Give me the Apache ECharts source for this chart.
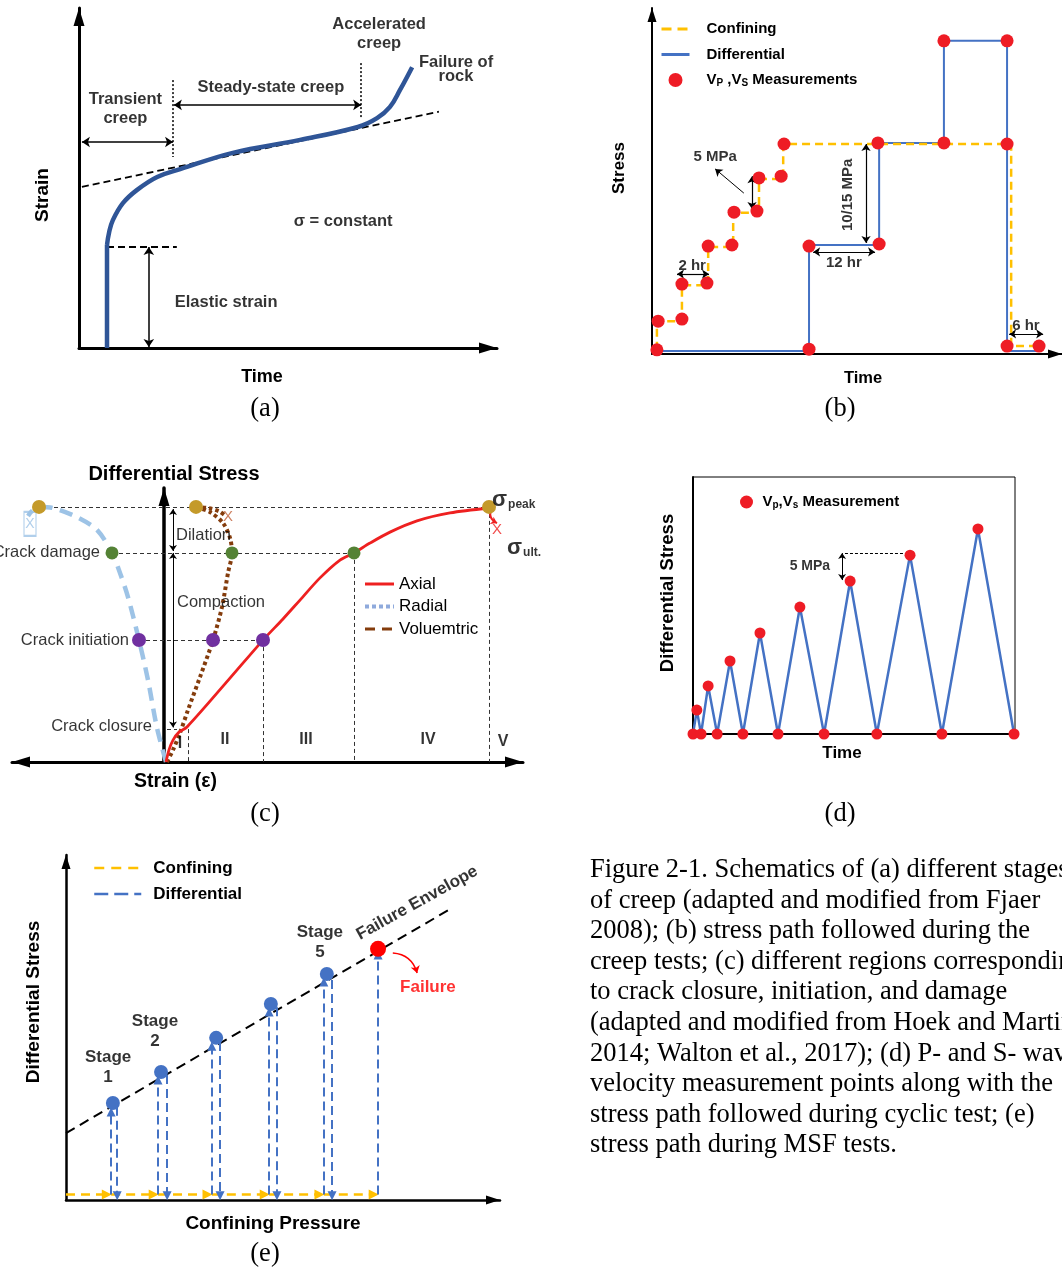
<!DOCTYPE html>
<html><head><meta charset="utf-8">
<script src="https://cdn.jsdelivr.net/npm/echarts@6/dist/echarts.min.js"></script>
<style>html,body{margin:0;padding:0;background:#fff;} #main{width:1062px;height:1268px;}</style>
</head><body><div id="main"></div>
<script>
// ================= DATA =================
// (a) creep strain vs time (normalised units 0-100)
const aElastic = [[6.7, 0], [6.7, 30.3]];
const aCreep = [[6.7, 30.3], [7.2, 34.0], [8.1, 37.6], [10.5, 42.6], [13.9, 46.5], [18.7, 50.3], [24.2, 52.6], [36.8, 57.4], [52.9, 61.2], [66.7, 65.0], [71.3, 67.6], [74.4, 70.9], [76.8, 75.9], [79.7, 82.6]];
const aTangent = [[0.7, 47.4], [86.1, 69.5]];
const aElasticLevel = [[6.7, 29.7], [23.4, 29.7]];
const aSpans = [[[16.7, 29.7], [16.7, 0.3]], [[0.7, 60.6], [22.5, 60.6]], [[22.7, 71.5], [67.5, 71.5]]];
const aBounds = [[[22.5, 78.8], [22.5, 56.2]], [[67.5, 83.8], [67.5, 67.6]]];
const aNotes = [[71.8, 92.5, 'Accelerated\ncreep'], [90.2, 81.8, 'Failure of\nrock'], [45.9, 76.5, 'Steady-state creep'], [11.1, 70.4, 'Transient\ncreep'], [63.2, 37.1, 'σ = constant'], [35.2, 13.5, 'Elastic strain']];

// (b) creep test stress path
const bConfT = [1.2, 1.2, 7.3, 7.3, 13.7, 13.7, 19.8, 19.8, 26.1, 26.1, 32.0, 32.0, 87.6, 87.6, 94.4];
const bConfS = [1.2, 9.5, 9.5, 19.9, 19.9, 30.9, 30.9, 40.8, 40.8, 50.6, 50.6, 60.7, 60.7, 2.3, 2.3];
const bDiffT = [1.2, 38.3, 38.3, 55.4, 55.4, 71.2, 71.2, 86.6, 86.6, 95.1];
const bDiffS = [0.9, 0.9, 31.5, 31.5, 61.0, 61.0, 90.5, 90.5, 0.9, 0.9];
const bMeasT = [1.2, 1.5, 7.3, 7.3, 13.4, 13.7, 19.5, 20.0, 25.6, 26.1, 31.5, 32.2, 38.3, 38.3, 55.1, 55.4, 71.2, 71.2, 86.6, 86.6, 86.6, 94.4];
const bMeasS = [1.2, 9.5, 10.1, 20.2, 20.5, 31.2, 31.5, 41.0, 41.3, 50.9, 51.4, 60.7, 1.4, 31.2, 61.0, 31.8, 61.0, 90.5, 90.5, 60.7, 2.3, 2.3];
const bSpans = [[[24.4, 51.4], [24.4, 41.9]], [[52.2, 60.7], [52.2, 32.1]], [[39.3, 29.5], [54.4, 29.5]], [[6.1, 23.1], [13.9, 23.1]], [[87.1, 5.8], [95.4, 5.8]]];
const bPointer = [[[22.4, 46.5], [15.4, 53.5]]];
const bNotes = [[15.4, 56.9, '5 MPa'], [46.8, 26.3, '12 hr'], [9.8, 25.4, '2 hr'], [91.2, 8.1, '6 hr']];
const bNotesV = [[47.8, 46.0, '10/15 MPa']];

// (c) stress-strain regions
const cAxial = [[0.4, 0], [1.0, 4.4], [1.8, 8.0], [3.0, 10.9], [4.6, 12.8], [12.2, 28.5], [19.8, 44.5], [23.8, 52.2], [27.2, 59.1], [31.2, 67.2], [35.2, 73.7], [38.0, 76.3], [41.2, 79.9], [45.2, 83.9], [50.6, 88.0], [57.2, 90.9], [65.0, 92.7]];
const cAxialTail = [[[65.6, 92.9], [66.6, 87.2]]];
const cRadial = [[0.4, 0], [-1.4, 12.4], [-3.2, 29.9], [-5.0, 44.5], [-7.2, 60.2], [-8.8, 69.0], [-10.4, 76.3], [-13.4, 84.7], [-17.4, 89.4], [-22.2, 92.7], [-25.0, 93.1], [-26.4, 91.6], [-27.2, 89.8]];
const cVol = [[0.6, 0], [1.8, 4.4], [3.2, 10.6], [4.8, 19.0], [7.2, 31.0], [9.8, 44.5], [11.6, 56.6], [12.8, 69.0], [13.6, 76.3], [13.2, 81.8], [11.8, 87.2], [9.2, 91.2], [6.4, 93.1]];
const cVolTail = [[6.4, 93.1], [9.0, 92.6], [11.0, 91.5], [12.2, 90.0]];
const cGold = [[-25.0, 93.1], [6.4, 93.1], [65.0, 93.1]];
const cGreen = [[-10.4, 76.3], [13.6, 76.3], [38.0, 76.3]];
const cPurple = [[-5.0, 44.5], [9.8, 44.5], [19.8, 44.5]];
const cGuidesH = [[[-24.8, 93.1], [65.0, 93.1]], [[-10.4, 76.3], [38.0, 76.3]], [[-5.0, 44.5], [19.8, 44.5]], [[0.6, 12.0], [2.6, 12.0]]];
const cGuidesV = [[[4.8, 12.0], [4.8, 0]], [[19.8, 44.5], [19.8, 0]], [[38.0, 76.3], [38.0, 0]], [[65.0, 93.1], [65.0, 0]]];
const cSpans = [[[1.8, 92.3], [1.8, 77.0]], [[1.8, 76.3], [1.8, 12.6]]];
const cNotesR = [[-12.8, 76.3, 'Crack damage'], [-7.0, 44.5, 'Crack initiation'], [-2.4, 12.8, 'Crack closure']];
const cNotesL = [[2.4, 82.8, 'Dilation'], [2.6, 58.4, 'Compaction']];
const cRegions = [[3.2, 6.9, 'I'], [12.2, 8.0, 'II'], [28.4, 8.0, 'III'], [52.8, 8.0, 'IV'], [67.8, 7.3, 'V']];
const cSigma = [[65.6, 95.6, '{s|σ}{p|peak}'], [68.6, 78.1, '{s|σ}{p|ult.}']];

// (d) cyclic test
const dTime = [0, 1.2, 2.5, 4.7, 7.5, 11.5, 15.5, 20.8, 26.4, 33.2, 40.7, 48.8, 57.1, 67.4, 77.3, 88.5, 99.7];
const dStress = [0, 9.3, 0, 18.7, 0, 28.4, 0, 39.3, 0, 49.4, 0, 59.5, 0, 69.6, 0, 79.8, 0];
const dSpan = [[[46.3, 70.4], [46.3, 59.9]]];
const dLevel = [[[47.2, 70.4], [66.8, 70.4]]];
const dNotes = [[36.3, 65.4, '5 MPa']];

// (e) MSF test
const eEnvelope = [[0, 19.4], [88.9, 84.6]];
const eStageP = [10.8, 21.9, 34.6, 47.2, 60.1];
const eStageQ = [28.1, 37.1, 47.0, 56.8, 65.5];
const eFailure = [[71.9, 72.8]];
const eUpX = [10.4, 21.2, 33.6, 46.8, 59.4, 71.9];
const eUpTop = [25.5, 34.8, 44.6, 54.5, 63.2, 71.0];
const eDownX = [11.8, 23.3, 35.5, 48.6, 61.3];
const eDownTop = [27.0, 36.2, 45.8, 55.9, 63.8];
const eBase = 1.6;
const eCurl = [[[75.3, 71.6], [80.9, 65.8]]];
const eNotes = [[9.7, 38.6, 'Stage\n1'], [20.5, 49.0, 'Stage\n2'], [58.5, 74.8, 'Stage\n5']];

const caption = [
  'Figure 2-1. Schematics of (a) different stages',
  'of creep (adapted and modified from Fjaer',
  '2008); (b) stress path followed during the',
  'creep tests; (c) different regions corresponding',
  'to crack closure, initiation, and damage',
  '(adapted and modified from Hoek and Martin',
  '2014; Walton et al., 2017); (d) P- and S- wave',
  'velocity measurement points along with the',
  'stress path followed during cyclic test; (e)',
  'stress path during MSF tests.'
];

// ================= HELPERS =================
const SANS = "'Liberation Sans', Arial, sans-serif";
const SERIF = "'Liberation Serif', 'Times New Roman', serif";
const BLUE = '#4472C4', ORANGE = '#FFC000', RED = '#FF0000';
const NOSYM = {opacity: 0, color: 'rgba(0,0,0,0)', borderWidth: 0};
const zip = (a, b) => a.map((v, k) => [v, b[k]]);

function nts(size, pad) { return {fontFamily: SANS, fontWeight: 'bold', fontSize: size, color: '#000', padding: pad || 0}; }
function axLine(width, symbol, size, offset) {
  return {show: true, onZero: true, symbol: symbol || 'none', symbolSize: size || [10, 15], symbolOffset: offset || [0, 0], lineStyle: {color: '#000', width: width}};
}
function axis(i, min, max, o) {
  return Object.assign({gridIndex: i, type: 'value', min: min, max: max, axisTick: {show: false}, axisLabel: {show: false}, splitLine: {show: false}}, o);
}
function line(i, name, data, style, extra) {
  return Object.assign({type: 'line', name: name, xAxisIndex: i, yAxisIndex: i, data: data, symbol: 'none', showSymbol: false, clip: false, silent: true, animation: false, z: 2,
    lineStyle: Object.assign({color: '#000', width: 2}, style)}, extra || {});
}
function segs(i, list, style, symbol, size, extra) {
  return Object.assign({type: 'lines', coordinateSystem: 'cartesian2d', xAxisIndex: i, yAxisIndex: i, clip: false, silent: true, animation: false, z: 3,
    symbol: symbol || 'none', symbolSize: size || 8, data: list.map(c => ({coords: c})),
    lineStyle: Object.assign({color: '#000', width: 1.2, opacity: 1, type: 'solid', curveness: 0}, style)}, extra || {});
}
function dots(i, name, data, color, size, extra) {
  return Object.assign({type: 'scatter', name: name, xAxisIndex: i, yAxisIndex: i, data: data, symbol: 'circle', symbolSize: size, clip: false, silent: true, animation: false, z: 6,
    itemStyle: {color: color, opacity: 1}}, extra || {});
}
function texts(i, list, style) {
  return {type: 'scatter', xAxisIndex: i, yAxisIndex: i, symbolSize: 0, clip: false, silent: true, animation: false, z: 9,
    data: list.map(t => ({value: [t[0], t[1]], name: t[2]})),
    label: Object.assign({show: true, position: 'inside', formatter: p => p.name, color: '#000', fontFamily: SANS, fontWeight: 'bold', fontSize: 16.5, lineHeight: 19, align: 'center', verticalAlign: 'middle'}, style)};
}

// ================= OPTION =================
const option = {
  backgroundColor: '#fff',
  animation: false,
  title: [
    {text: caption.join('\n'), left: 590, top: 855, padding: 0, textStyle: {fontFamily: SERIF, fontSize: 26.5, fontWeight: 'normal', color: '#000', lineHeight: 30.55}},
    {text: '(a)', left: 265, top: 396, textAlign: 'center', padding: 0, textStyle: {fontFamily: SERIF, fontSize: 26.5, fontWeight: 'normal', color: '#000'}},
    {text: '(b)', left: 840, top: 396, textAlign: 'center', padding: 0, textStyle: {fontFamily: SERIF, fontSize: 26.5, fontWeight: 'normal', color: '#000'}},
    {text: '(c)', left: 265, top: 801, textAlign: 'center', padding: 0, textStyle: {fontFamily: SERIF, fontSize: 26.5, fontWeight: 'normal', color: '#000'}},
    {text: '(d)', left: 840, top: 801, textAlign: 'center', padding: 0, textStyle: {fontFamily: SERIF, fontSize: 26.5, fontWeight: 'normal', color: '#000'}},
    {text: '(e)', left: 265, top: 1241, textAlign: 'center', padding: 0, textStyle: {fontFamily: SERIF, fontSize: 26.5, fontWeight: 'normal', color: '#000'}}
  ],
  legend: [
    {left: 660, top: 21.5, padding: 0, orient: 'vertical', itemWidth: 28, itemHeight: 14, itemGap: 10.5, selectedMode: false,
      data: [{name: 'Confining', itemStyle: NOSYM, lineStyle: {width: 3, type: [10, 6]}}, {name: 'Differential', itemStyle: NOSYM, lineStyle: {width: 3}}, {name: 'VP,VS Measurements'}],
      formatter: n => n === 'VP,VS Measurements' ? '{n|V}{s|P}{n| ,V}{s|S}{n| Measurements}' : n,
      textStyle: {fontFamily: SANS, fontWeight: 'bold', fontSize: 15, color: '#000', padding: [0, 0, 0, 12],
        rich: {n: {fontFamily: SANS, fontWeight: 'bold', fontSize: 15, color: '#000'}, s: {fontFamily: SANS, fontWeight: 'bold', fontSize: 10, color: '#000', padding: [7, 0, 0, 0]}}}},
    {left: 363, top: 575.5, padding: 0, orient: 'vertical', itemWidth: 29, itemHeight: 14, itemGap: 5.5, selectedMode: false,
      data: [{name: 'Axial', itemStyle: NOSYM, lineStyle: {width: 3}}, {name: 'Radial', itemStyle: NOSYM, lineStyle: {type: [4, 3], width: 4, color: '#8FAADC'}}, {name: 'Voluemtric', itemStyle: NOSYM, lineStyle: {type: [10, 7], width: 3}}],
      textStyle: {fontFamily: SANS, fontSize: 17, color: '#000'}},
    {left: 740, top: 494.5, padding: 0, orient: 'vertical', itemWidth: 14, itemHeight: 13, selectedMode: false,
      data: [{name: 'Vp,Vs Measurement'}],
      formatter: () => '{n|V}{s|p}{n|,V}{s|s}{n| Measurement}',
      textStyle: {fontFamily: SANS, fontWeight: 'bold', fontSize: 15, color: '#000', padding: [0, 0, 0, 4],
        rich: {n: {fontFamily: SANS, fontWeight: 'bold', fontSize: 15, color: '#000'}, s: {fontFamily: SANS, fontWeight: 'bold', fontSize: 10, color: '#000', padding: [7, 0, 0, 0]}}}},
    {left: 93, top: 859.5, padding: 0, orient: 'vertical', itemWidth: 47, itemHeight: 14, itemGap: 9, selectedMode: false,
      data: [{name: 'Confining', itemStyle: NOSYM, lineStyle: {type: [10, 7], width: 2.5}}, {name: 'Differential', itemStyle: NOSYM, lineStyle: {type: [14, 6], width: 2.5}}],
      textStyle: {fontFamily: SANS, fontWeight: 'bold', fontSize: 17, color: '#000', padding: [0, 0, 0, 7]}}
  ],
  grid: [
    {left: 79, top: 8, width: 418, height: 340},
    {left: 652, top: 8, width: 410, height: 346},
    {left: 12, top: 488, width: 511, height: 274},
    {left: 693, top: 477, width: 322, height: 257, show: true, borderColor: '#000', borderWidth: 1, backgroundColor: 'transparent'},
    {left: 66, top: 855, width: 434, height: 345}
  ],
  xAxis: [
    axis(0, 0, 100, {axisLine: axLine(3, ['none', 'triangle'], [11, 18], [0, -9]), name: 'Time', nameLocation: 'middle', nameGap: 20, nameTextStyle: nts(18, [0, 52, 0, 0])}),
    axis(1, 0, 100, {axisLine: axLine(2, ['none', 'triangle'], [9, 14], [0, -7]), name: 'Time', nameLocation: 'middle', nameGap: 15.5, nameTextStyle: nts(16.5, [0, 0, 0, 12])}),
    axis(2, -30.4, 71.8, {axisLine: axLine(3, ['triangle', 'triangle'], [11, 18], [9, -9]), name: 'Strain (ε)', nameLocation: 'middle', nameGap: 10, nameTextStyle: nts(19.5, [0, 184, 0, 0])}),
    axis(3, 0, 100, {axisLine: axLine(2), name: 'Time', nameLocation: 'middle', nameGap: 10.5, nameTextStyle: nts(17, [0, 24, 0, 0])}),
    axis(4, 0, 100, {axisLine: axLine(2.5, ['none', 'triangle'], [9, 14], [0, -7]), name: 'Confining Pressure', nameLocation: 'middle', nameGap: 14.5, nameTextStyle: nts(19, [0, 20, 0, 0])})
  ],
  yAxis: [
    axis(0, 0, 100, {axisLine: axLine(3, ['none', 'triangle'], [11, 18], [0, -9]), name: 'Strain', nameLocation: 'middle', nameGap: 27, nameTextStyle: nts(19, [0, 34, 0, 0])}),
    axis(1, 0, 100, {axisLine: axLine(2, ['none', 'triangle'], [9, 14], [0, -7]), name: 'Stress', nameLocation: 'middle', nameGap: 24, nameTextStyle: nts(17, [0, 0, 0, 26])}),
    axis(2, 0, 100, {axisLine: axLine(3.5, ['none', 'triangle'], [11, 18], [0, -9]), name: 'Differential Stress', nameLocation: 'end', nameGap: 4, nameTextStyle: nts(20, [0, 0, 0, 20])}),
    axis(3, 0, 100, {axisLine: axLine(2), name: 'Differential Stress', nameLocation: 'middle', nameGap: 16, nameTextStyle: nts(18.5, [0, 0, 0, 25])}),
    axis(4, 0, 100, {axisLine: axLine(2.5, ['none', 'triangle'], [9, 14], [0, -7]), name: 'Differential Stress', nameLocation: 'middle', nameGap: 22.5, nameTextStyle: nts(19, [0, 0, 0, 51])})
  ],
  series: [
    // ---- (b) first so legends pick these styles ----
    line(1, 'Differential', zip(bDiffT, bDiffS), {color: BLUE, width: 2}, {z: 2}),
    line(1, 'Confining', zip(bConfT, bConfS), {color: ORANGE, width: 2.5, type: [8, 5]}, {z: 3}),
    dots(1, 'VP,VS Measurements', zip(bMeasT, bMeasS), '#EE1C25', 13),
    segs(1, bSpans, {width: 1.2}, ['arrow', 'arrow'], 7),
    segs(1, bPointer, {width: 1}, ['none', 'arrow'], 7),
    texts(1, bNotes, {fontSize: 15}),
    texts(1, bNotesV, {fontSize: 15, rotate: 90}),

    // ---- (a) ----
    line(0, null, aElastic, {color: '#2F5597', width: 4.5}),
    line(0, null, aCreep, {color: '#2F5597', width: 4.5}, {smooth: 0.4}),
    line(0, null, aTangent, {color: '#000', width: 1.8, type: [7, 4]}, {z: 1}),
    line(0, null, aElasticLevel, {color: '#000', width: 2, type: [7, 4]}, {z: 1}),
    segs(0, aSpans, {width: 1.5}, ['arrow', 'arrow'], 8),
    segs(0, aBounds, {width: 1.5, type: [2, 2]}),
    {type: 'scatter', xAxisIndex: 0, yAxisIndex: 0, symbolSize: 0, clip: false, silent: true, animation: false, z: 9,
      data: aNotes.map(t => ({value: [t[0], t[1]], name: t[2], label: t[2].indexOf('Failure') === 0 ? {lineHeight: 14} : {}})),
      label: {show: true, position: 'inside', formatter: p => p.name, color: '#000', fontFamily: SANS, fontWeight: 'bold', fontSize: 16.5, lineHeight: 19, align: 'center', verticalAlign: 'middle'}},

    // ---- (c) ----
    segs(2, cGuidesH, {width: 1, type: [4, 3], color: '#333'}, 'none', 1, {z: 1}),
    segs(2, cGuidesV, {width: 1, type: [4, 3], color: '#333'}, 'none', 1, {z: 1}),
    line(2, 'Axial', cAxial, {color: '#EE2020', width: 2.8}, {smooth: 0.3, z: 4}),
    segs(2, cAxialTail, {color: '#EE2020', width: 2, curveness: -0.5}, ['none', 'arrow'], 6),
    line(2, 'Radial', cRadial, {color: '#9DC3E6', width: 4.5, type: [13, 8]}, {smooth: 0.3, z: 3}),
    line(2, 'Voluemtric', cVol, {color: '#843C0C', width: 4, type: [3.5, 3]}, {smooth: 0.3, z: 3}),
    line(2, null, cVolTail, {color: '#843C0C', width: 4, type: [3.5, 3]}, {smooth: 0.3, z: 3}),
    segs(2, cSpans, {width: 1}, ['arrow', 'arrow'], 6),
    dots(2, null, cGold, '#C49A2A', 14),
    dots(2, null, cGreen, '#548235', 13),
    dots(2, null, cPurple, '#7030A0', 14),
    {type: 'scatter', xAxisIndex: 2, yAxisIndex: 2, data: [[-26.8, 86.9]], symbol: 'rect', symbolSize: [12, 24], clip: false, silent: true, animation: false, z: 5,
      itemStyle: {color: 'rgba(255,255,255,0)', borderColor: '#9DC3E6', borderWidth: 1.5},
      label: {show: true, position: 'inside', formatter: 'X', color: '#9DC3E6', fontFamily: SANS, fontSize: 14}},
    texts(2, [[12.8, 89.4, 'X']], {fontWeight: 'normal', fontSize: 15, color: '#C0603A'}),
    texts(2, [[66.6, 84.7, 'X']], {fontWeight: 'normal', fontSize: 15, color: '#EE2020'}),
    texts(2, cNotesR, {fontWeight: 'normal', fontSize: 16.5, align: 'right'}),
    texts(2, cNotesL, {fontWeight: 'normal', fontSize: 16.5, align: 'left'}),
    texts(2, cRegions, {fontSize: 16}),
    texts(2, cSigma, {align: 'left', rich: {s: {fontFamily: SANS, fontSize: 22, color: '#000'}, p: {fontFamily: SANS, fontSize: 12, color: '#000', padding: [10, 0, 0, 1]}}}),

    // ---- (d) ----
    line(3, null, zip(dTime, dStress), {color: BLUE, width: 2.5}),
    dots(3, 'Vp,Vs Measurement', zip(dTime, dStress), '#EE1C25', 11),
    segs(3, dSpan, {width: 1}, ['arrow', 'arrow'], 6),
    segs(3, dLevel, {width: 1, type: [3, 2]}),
    texts(3, dNotes, {fontSize: 14}),

    // ---- (e) ----
    line(4, null, eEnvelope, {color: '#000', width: 2, type: [10, 6]}, {z: 1}),
    segs(4, [0].concat(eUpX.slice(0, -1)).map((x0, k) => [[x0, eBase], [eUpX[k] - 1, eBase]]), {color: ORANGE, width: 2.5, type: [9, 6]}, ['none', 'triangle'], [8, 10], {z: 2}),
    segs(4, eUpX.map((x, k) => [[x, eBase], [x, eUpTop[k]]]), {color: BLUE, width: 2, type: [9, 5]}, ['none', 'triangle'], [7, 9]),
    segs(4, eDownX.map((x, k) => [[x, eDownTop[k]], [x, eBase - 0.4]]), {color: BLUE, width: 2, type: [9, 5]}, ['none', 'triangle'], [7, 9]),
    dots(4, null, zip(eStageP, eStageQ), BLUE, 14),
    dots(4, null, eFailure, RED, 16),
    segs(4, eCurl, {color: RED, width: 1.5, curveness: 0.35}, ['none', 'arrow'], 7),
    texts(4, eNotes, {fontSize: 17, lineHeight: 20}),
    texts(4, [[80.9, 86.1, 'Failure Envelope']], {fontSize: 17, rotate: 29}),
    texts(4, [[83.4, 61.7, 'Failure']], {fontSize: 17, color: RED})
  ]
};

const chart = echarts.init(document.getElementById('main'), null, {renderer: 'canvas', width: 1062, height: 1268});
chart.setOption(option);
</script></body></html>
